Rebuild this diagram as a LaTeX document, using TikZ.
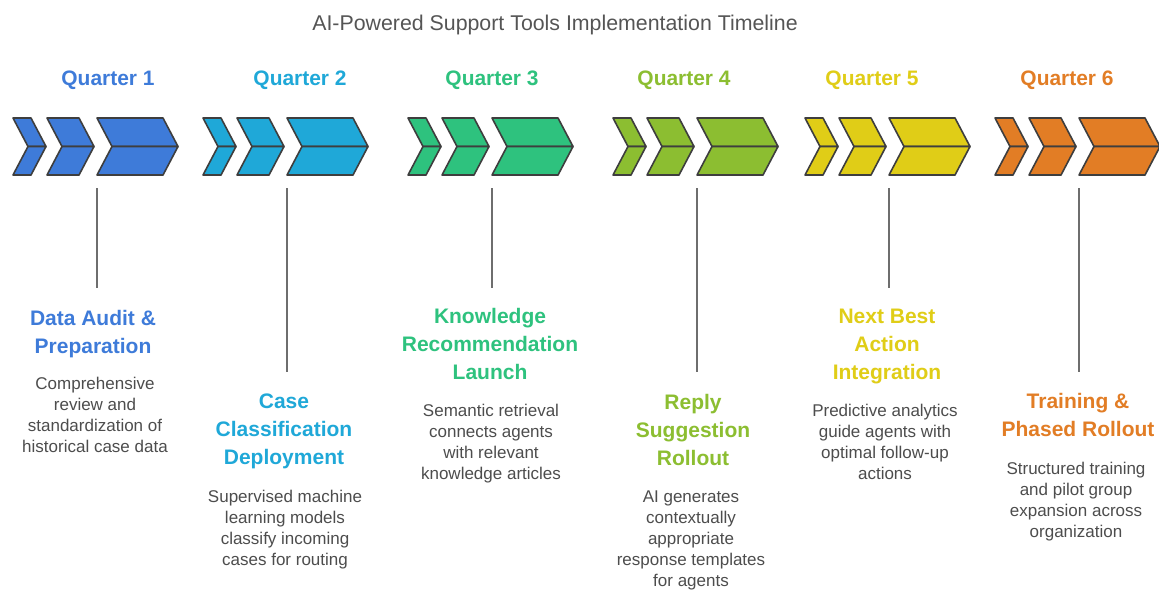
\documentclass[tikz,border=0pt]{standalone}
\usepackage{fontspec}
\setmainfont{Liberation Sans}
\definecolor{qone}{HTML}{3E7BD9}
\definecolor{qtwo}{HTML}{1FA8D8}
\definecolor{qthree}{HTML}{2EC27E}
\definecolor{qfour}{HTML}{8CBE31}
\definecolor{qfive}{HTML}{E0CD17}
\definecolor{qsix}{HTML}{E27D25}
\definecolor{outline}{HTML}{3E3E3E}
\definecolor{stemgray}{HTML}{6E6E6E}
\definecolor{bodygray}{HTML}{4D4D4D}
\definecolor{titlegray}{HTML}{555555}
% three chevrons of one quarter: #1 = left x, #2 = fill colour
\newcommand\chevgroup[2]{%
  \foreach \a/\b in {0/18,34/66,84/150}{
    \filldraw[chev,fill=#2] (#1+\a,118) -- (#1+\b,118) -- (#1+\b+15,146.5) -- (#1+\a+15,146.5) -- cycle;
    \filldraw[chev,fill=#2] (#1+\a+15,146.5) -- (#1+\b+15,146.5) -- (#1+\b,175) -- (#1+\a,175) -- cycle;
  }}
\begin{document}
\begin{tikzpicture}[x=0.75pt,y=-0.75pt,
  chev/.style={draw=outline,line width=1.2pt,line join=round},
  stem/.style={draw=stemgray,line width=1.5pt},
  qlabel/.style={font=\fontsize{15.7}{18}\selectfont\bfseries,anchor=base,inner sep=0},
  head/.style={font=\fontsize{15.75}{21}\selectfont\bfseries,align=center,anchor=north,inner sep=0},
  body/.style={font=\fontsize{12.75}{15.75}\selectfont,text=bodygray,align=center,anchor=north,inner sep=0}]
\useasboundingbox[fill=white] (0,0) rectangle (1159,594);

% title
\node[font=\fontsize{16}{19}\selectfont,text=titlegray,anchor=base,inner sep=0] (title) at (555,30)
  {AI-Powered Support Tools Implementation Timeline};

% quarter labels
\node[qlabel,text=qone]   (q1) at (108,85)  {Quarter 1};
\node[qlabel,text=qtwo]   (q2) at (300,85)  {Quarter 2};
\node[qlabel,text=qthree] (q3) at (492,85)  {Quarter 3};
\node[qlabel,text=qfour]  (q4) at (684,85)  {Quarter 4};
\node[qlabel,text=qfive]  (q5) at (872,85)  {Quarter 5};
\node[qlabel,text=qsix]   (q6) at (1067,85) {Quarter 6};

% chevron bands
\chevgroup{13}{qone}
\chevgroup{203}{qtwo}
\chevgroup{408}{qthree}
\chevgroup{613}{qfour}
\chevgroup{805}{qfive}
\chevgroup{995}{qsix}

% stems from the bands down to the milestones
\coordinate (s1a) at (97,188);   \coordinate (s1b) at (97,288);
\coordinate (s2a) at (287,188);  \coordinate (s2b) at (287,372);
\coordinate (s3a) at (492,188);  \coordinate (s3b) at (492,288);
\coordinate (s4a) at (697,188);  \coordinate (s4b) at (697,372);
\coordinate (s5a) at (889,188);  \coordinate (s5b) at (889,288);
\coordinate (s6a) at (1079,188); \coordinate (s6b) at (1079,372);
\foreach \i in {1,...,6}{\draw[stem] (s\i a) -- (s\i b);}

% milestones
\node[head,text=qone] (h1) at (93,310.5) {Data Audit \&\\Preparation};
\node[body] (b1) at (95,377) {Comprehensive\\review and\\standardization of\\historical case data};

\node[head,text=qtwo] (h2) at (284,393.5) {Case\\Classification\\Deployment};
\node[body] (b2) at (285,490) {Supervised machine\\learning models\\classify incoming\\cases for routing};

\node[head,text=qthree] (h3) at (490,308.5) {Knowledge\\Recommendation\\Launch};
\node[body] (b3) at (491,404) {Semantic retrieval\\connects agents\\with relevant\\knowledge articles};

\node[head,text=qfour] (h4) at (693,394.5) {Reply\\Suggestion\\Rollout};
\node[body] (b4) at (691,491) {AI generates\\contextually\\appropriate\\response templates\\for agents};

\node[head,text=qfive] (h5) at (887,308.5) {Next Best\\Action\\Integration};
\node[body] (b5) at (885,404) {Predictive analytics\\guide agents with\\optimal follow-up\\actions};

\node[head,text=qsix] (h6) at (1078,393.5) {Training \&\\Phased Rollout};
\node[body] (b6) at (1076,462) {Structured training\\and pilot group\\expansion across\\organization};
\end{tikzpicture}
\end{document}
